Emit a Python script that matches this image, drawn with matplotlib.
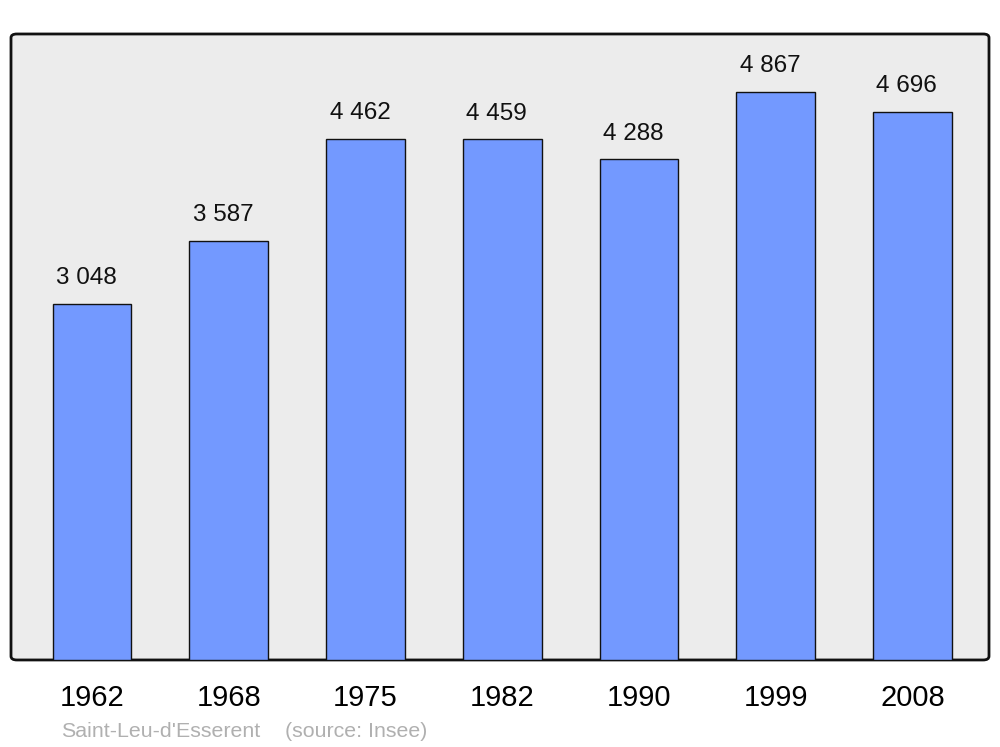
import matplotlib
matplotlib.use("Agg")
import matplotlib.pyplot as plt
from matplotlib.patches import FancyBboxPatch

years = ["1962", "1968", "1975", "1982", "1990", "1999", "2008"]
population = [3048, 3587, 4462, 4459, 4288, 4867, 4696]
labels = ["3 048", "3 587", "4 462", "4 459", "4 288", "4 867", "4 696"]

plt.rcParams['font.family'] = ['Liberation Sans', 'DejaVu Sans']

fig = plt.figure(figsize=(10, 7.47), dpi=100)
ax = fig.add_axes([0.011, 0.1165, 0.978, 0.838])
ax.set_xlim(-0.592, 6.56)
ax.set_ylim(0, 5360)
ax.set_facecolor('none')
for s in ax.spines.values():
    s.set_visible(False)

bg = FancyBboxPatch((0, 0), 1, 1, boxstyle="round,pad=0,rounding_size=0.006",
                    transform=ax.transAxes, facecolor='#ececec', edgecolor='#111111',
                    linewidth=2.0, zorder=0, clip_on=False)
ax.add_patch(bg)

x = list(range(len(years)))
ax.bar(x, population, width=0.575, color='#7399ff', edgecolor='#111111',
       linewidth=1.0, zorder=2)

for xi, v, lab in zip(x, population, labels):
    ax.annotate(lab, (xi, v), xytext=(-4, 10.5), textcoords='offset points',
                ha='center', va='bottom', fontsize=17.5, color='#111111')

ax.set_xticks(x)
ax.set_xticklabels(years, fontsize=21)
ax.tick_params(axis='x', length=0, pad=17)
ax.set_yticks([])

fig.text(0.061, 0.013, "Saint-Leu-d'Esserent", fontsize=15.4, color='#b0b0b0',
         ha='left', va='baseline')
fig.text(0.285, 0.013, "(source: Insee)", fontsize=15.4, color='#b0b0b0',
         ha='left', va='baseline')

fig.savefig("out.png", dpi=100)
